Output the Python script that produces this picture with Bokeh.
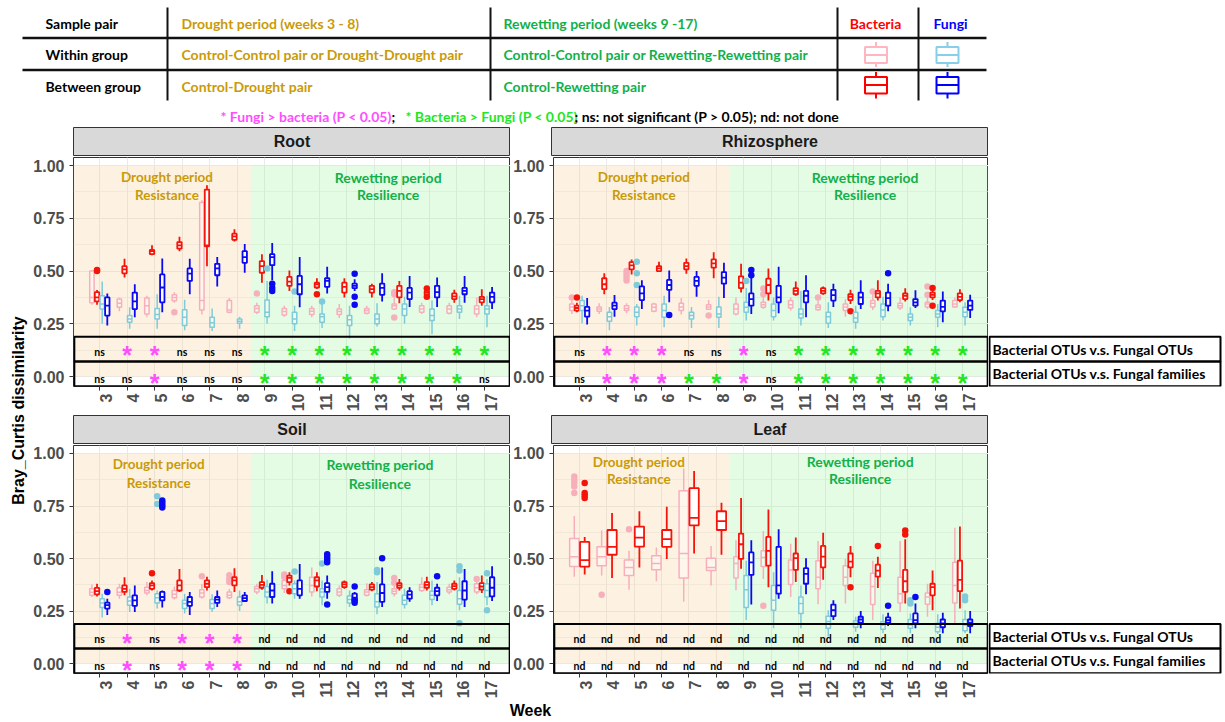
import math
from bokeh.plotting import figure
from bokeh.models import (Range1d, FixedTicker, NumeralTickFormatter, ColumnDataSource, Spacer,
                          LinearAxis, CustomJSTickFormatter, BoxAnnotation)
from bokeh.layouts import row, column
from bokeh.embed import file_html
from bokeh.resources import INLINE
from bokeh.core.properties import value

# ---------------- data ----------------
WEEKS = [3, 4, 5, 6, 7, 8, 9, 10, 11, 12, 13, 14, 15, 16, 17]
Y_TICKS = [0.0, 0.25, 0.5, 0.75, 1.0]
Y_MINOR = [0.125, 0.375, 0.625, 0.875]

# box statistics per week: (lower whisker, Q1, median, Q3, upper whisker)
ROOT_BAC_WITHIN = [(0.34, 0.35, 0.375, 0.50, 0.505), (0.31, 0.328, 0.347, 0.367, 0.375), (0.284, 0.297, 0.336, 0.372, 0.383),
                   (0.35, 0.359, 0.375, 0.388, 0.40), (0.294, 0.316, 0.36, 0.825, 0.836), (0.30, 0.305, 0.316, 0.36, 0.372),
                   (0.297, 0.305, 0.323, 0.336, 0.35), (0.284, 0.292, 0.308, 0.323, 0.336), (0.281, 0.294, 0.309, 0.323, 0.336),
                   (0.278, 0.294, 0.308, 0.32, 0.344), (0.294, 0.30, 0.3125, 0.323, 0.336), (0.316, 0.32, 0.336, 0.344, 0.375),
                   (0.297, 0.305, 0.32, 0.336, 0.35), (0.294, 0.30, 0.32, 0.336, 0.35), (0.281, 0.297, 0.32, 0.336, 0.375)]
ROOT_BAC_BETWEEN = [(0.34, 0.356, 0.375, 0.40, 0.41), (0.47, 0.489, 0.508, 0.523, 0.558), (0.575, 0.58, 0.594, 0.60, 0.622),
                    (0.594, 0.606, 0.622, 0.6375, 0.6625), (0.523, 0.617, 0.622, 0.886, 0.906), (0.64, 0.648, 0.664, 0.677, 0.698),
                    (0.445, 0.492, 0.523, 0.547, 0.58), (0.406, 0.43, 0.45, 0.472, 0.503), (0.415, 0.422, 0.4375, 0.445, 0.466),
                    (0.375, 0.398, 0.425, 0.445, 0.466), (0.375, 0.398, 0.414, 0.43, 0.44), (0.347, 0.375, 0.406, 0.43, 0.453),
                    (0.383, 0.3875, 0.398, 0.406, 0.41), (0.35, 0.367, 0.38, 0.394, 0.411), (0.336, 0.352, 0.367, 0.378, 0.414)]
ROOT_FUN_WITHIN = [(0.25, 0.32, 0.344, 0.383, 0.45), (0.227, 0.258, 0.273, 0.289, 0.328), (0.227, 0.273, 0.294, 0.323, 0.39),
                   (0.219, 0.242, 0.281, 0.317, 0.364), (0.216, 0.234, 0.255, 0.281, 0.323), (0.227, 0.253, 0.2625, 0.273, 0.284),
                   (0.25, 0.284, 0.305, 0.3625, 0.453), (0.216, 0.25, 0.273, 0.305, 0.336), (0.23, 0.258, 0.284, 0.297, 0.344),
                   (0.18, 0.242, 0.269, 0.289, 0.336), (0.2375, 0.25, 0.273, 0.297, 0.347), (0.25, 0.289, 0.32, 0.344, 0.378),
                   (0.20, 0.266, 0.289, 0.32, 0.36), (0.273, 0.305, 0.32, 0.336, 0.383), (0.234, 0.297, 0.32, 0.336, 0.383)]
ROOT_FUN_BETWEEN = [(0.242, 0.289, 0.336, 0.375, 0.394), (0.281, 0.32, 0.356, 0.398, 0.4375), (0.305, 0.352, 0.422, 0.484, 0.56),
                    (0.39, 0.453, 0.4875, 0.5125, 0.558), (0.427, 0.48, 0.5125, 0.534, 0.567), (0.492, 0.539, 0.566, 0.594, 0.628),
                    (0.456, 0.528, 0.566, 0.58, 0.633), (0.328, 0.39, 0.4375, 0.477, 0.566), (0.394, 0.425, 0.453, 0.466, 0.52),
                    (0.406, 0.419, 0.43, 0.44, 0.461), (0.356, 0.3875, 0.42, 0.44, 0.489), (0.33, 0.367, 0.398, 0.42, 0.477),
                    (0.33, 0.375, 0.40, 0.43, 0.469), (0.35, 0.39, 0.406, 0.42, 0.477), (0.32, 0.352, 0.378, 0.398, 0.425)]
ROOT_OUT_BAC_WITHIN = [(6, 0.305), (9, 0.394), (14, 0.40), (14, 0.39), (14, 0.28)]
ROOT_OUT_BAC_BETWEEN = [(3, 0.50), (3, 0.505), (11, 0.39), (15, 0.417), (15, 0.378)]
ROOT_OUT_FUN_WITHIN = [(9, 0.5125), (10, 0.403), (11, 0.356)]
ROOT_OUT_FUN_BETWEEN = [(9, 0.44), (9, 0.42), (9, 0.406), (12, 0.4875), (12, 0.378), (12, 0.34)]

RHIZO_BAC_WITHIN = [(0.297, 0.3125, 0.33, 0.344, 0.36), (0.297, 0.309, 0.32, 0.33, 0.347), (0.30, 0.3125, 0.323, 0.336, 0.347),
                    (0.305, 0.309, 0.328, 0.344, 0.35), (0.294, 0.3125, 0.33, 0.348, 0.372), (0.316, 0.319, 0.33, 0.34, 0.3625),
                    (0.289, 0.297, 0.32, 0.344, 0.375), (0.32, 0.328, 0.34, 0.352, 0.383), (0.3125, 0.325, 0.34, 0.36, 0.375),
                    (0.3125, 0.317, 0.328, 0.339, 0.36), (0.284, 0.3125, 0.33, 0.344, 0.367), (0.316, 0.33, 0.347, 0.36, 0.39),
                    (0.316, 0.325, 0.336, 0.347, 0.375), (0.32, 0.33, 0.344, 0.352, 0.383), (0.325, 0.33, 0.344, 0.36, 0.375)]
RHIZO_BAC_BETWEEN = [(0.305, 0.3125, 0.325, 0.336, 0.35), (0.39, 0.414, 0.4375, 0.466, 0.489), (0.484, 0.508, 0.527, 0.542, 0.555),
                     (0.497, 0.50, 0.5125, 0.523, 0.544), (0.4875, 0.508, 0.523, 0.539, 0.56), (0.466, 0.516, 0.536, 0.555, 0.589),
                     (0.398, 0.419, 0.445, 0.475, 0.534), (0.36, 0.394, 0.434, 0.464, 0.5125), (0.383, 0.39, 0.406, 0.419, 0.45),
                     (0.3875, 0.394, 0.406, 0.419, 0.427), (0.344, 0.3625, 0.378, 0.39, 0.411), (0.36, 0.375, 0.394, 0.406, 0.456),
                     (0.356, 0.367, 0.383, 0.394, 0.419), (0.3625, 0.375, 0.3875, 0.398, 0.41), (0.352, 0.3625, 0.378, 0.394, 0.414)]
RHIZO_FUN_WITHIN = [(0.253, 0.3125, 0.336, 0.36, 0.383), (0.22, 0.2625, 0.284, 0.305, 0.33), (0.242, 0.284, 0.305, 0.33, 0.344),
                    (0.234, 0.281, 0.3125, 0.344, 0.383), (0.23, 0.273, 0.289, 0.305, 0.33), (0.23, 0.281, 0.297, 0.33, 0.378),
                    (0.266, 0.305, 0.328, 0.352, 0.42), (0.266, 0.284, 0.3125, 0.344, 0.375), (0.242, 0.278, 0.297, 0.32, 0.406),
                    (0.23, 0.253, 0.284, 0.305, 0.352), (0.227, 0.258, 0.278, 0.305, 0.336), (0.266, 0.284, 0.316, 0.344, 0.378),
                    (0.242, 0.266, 0.281, 0.297, 0.328), (0.234, 0.281, 0.297, 0.3125, 0.344), (0.242, 0.284, 0.305, 0.328, 0.352)]
RHIZO_FUN_BETWEEN = [(0.247, 0.284, 0.3125, 0.33, 0.372), (0.284, 0.32, 0.336, 0.35, 0.386), (0.32, 0.3625, 0.394, 0.427, 0.456),
                     (0.352, 0.411, 0.434, 0.458, 0.503), (0.378, 0.43, 0.453, 0.472, 0.50), (0.372, 0.44, 0.469, 0.495, 0.539),
                     (0.297, 0.336, 0.367, 0.394, 0.469), (0.30, 0.352, 0.375, 0.43, 0.52), (0.281, 0.352, 0.383, 0.406, 0.48),
                     (0.33, 0.36, 0.386, 0.411, 0.44), (0.32, 0.344, 0.375, 0.398, 0.456), (0.309, 0.336, 0.372, 0.398, 0.44),
                     (0.325, 0.336, 0.352, 0.367, 0.409), (0.258, 0.309, 0.33, 0.36, 0.403), (0.278, 0.316, 0.336, 0.36, 0.3875)]
RHIZO_OUT_BAC_WITHIN = [(3, 0.375), (5, 0.50), (5, 0.485), (5, 0.47), (5, 0.455), (8, 0.289), (10, 0.417), (10, 0.39),
                        (12, 0.375), (14, 0.403), (16, 0.427), (16, 0.3875)]
RHIZO_OUT_BAC_BETWEEN = [(3, 0.375), (13, 0.309), (16, 0.42), (16, 0.336)]
RHIZO_OUT_FUN_WITHIN = [(5, 0.544), (5, 0.49), (5, 0.434), (9, 0.453)]
RHIZO_OUT_FUN_BETWEEN = [(6, 0.292), (9, 0.505), (9, 0.48), (14, 0.49)]

SOIL_BAC_WITHIN = [(0.317, 0.325, 0.34, 0.356, 0.377), (0.309, 0.325, 0.34, 0.361, 0.38), (0.325, 0.336, 0.348, 0.364, 0.388),
                   (0.305, 0.314, 0.33, 0.348, 0.367), (0.309, 0.317, 0.336, 0.352, 0.38), (0.309, 0.314, 0.325, 0.341, 0.356),
                   (0.33, 0.341, 0.356, 0.367, 0.38), (0.336, 0.356, 0.372, 0.396, 0.40), (0.32, 0.341, 0.372, 0.411, 0.458),
                   (0.317, 0.325, 0.341, 0.356, 0.372), (0.32, 0.325, 0.341, 0.352, 0.383), (0.32, 0.333, 0.345, 0.356, 0.37),
                   (0.341, 0.348, 0.364, 0.377, 0.411), (0.33, 0.341, 0.352, 0.364, 0.38), (0.33, 0.341, 0.361, 0.38, 0.395)]
SOIL_BAC_BETWEEN = [(0.32, 0.33, 0.345, 0.36, 0.38), (0.325, 0.341, 0.356, 0.372, 0.411), (0.348, 0.356, 0.372, 0.383, 0.396),
                    (0.341, 0.348, 0.372, 0.396, 0.45), (0.348, 0.364, 0.38, 0.396, 0.414), (0.341, 0.372, 0.396, 0.411, 0.454),
                    (0.352, 0.361, 0.375, 0.388, 0.422), (0.372, 0.388, 0.408, 0.419, 0.435), (0.345, 0.367, 0.396, 0.411, 0.435),
                    (0.356, 0.364, 0.377, 0.388, 0.396), (0.345, 0.352, 0.364, 0.377, 0.388), (0.348, 0.361, 0.372, 0.383, 0.403),
                    (0.348, 0.361, 0.375, 0.388, 0.414), (0.348, 0.356, 0.369, 0.38, 0.396), (0.336, 0.352, 0.367, 0.383, 0.419)]
SOIL_FUN_WITHIN = [(0.22, 0.267, 0.289, 0.309, 0.333), (0.246, 0.278, 0.298, 0.317, 0.356), (0.262, 0.289, 0.314, 0.333, 0.348),
                   (0.239, 0.262, 0.286, 0.301, 0.333), (0.246, 0.262, 0.286, 0.305, 0.33), (0.251, 0.278, 0.294, 0.317, 0.348),
                   (0.286, 0.317, 0.341, 0.367, 0.399), (0.309, 0.333, 0.356, 0.38, 0.396), (0.278, 0.317, 0.341, 0.356, 0.396),
                   (0.27, 0.289, 0.305, 0.322, 0.348), (0.235, 0.27, 0.294, 0.333, 0.388), (0.262, 0.281, 0.301, 0.325, 0.356),
                   (0.278, 0.305, 0.325, 0.345, 0.396), (0.254, 0.283, 0.309, 0.348, 0.411), (0.278, 0.317, 0.348, 0.38, 0.403)]
SOIL_FUN_BETWEEN = [(0.231, 0.262, 0.278, 0.29, 0.309), (0.246, 0.275, 0.301, 0.325, 0.372), (0.267, 0.301, 0.317, 0.341, 0.348),
                    (0.231, 0.275, 0.294, 0.317, 0.341), (0.27, 0.289, 0.305, 0.317, 0.348), (0.294, 0.298, 0.312, 0.325, 0.341),
                    (0.286, 0.317, 0.348, 0.38, 0.44), (0.309, 0.325, 0.356, 0.396, 0.474), (0.309, 0.341, 0.364, 0.383, 0.419),
                    (0.289, 0.298, 0.314, 0.333, 0.341), (0.27, 0.294, 0.336, 0.377, 0.458), (0.294, 0.309, 0.328, 0.345, 0.364),
                    (0.298, 0.325, 0.345, 0.361, 0.38), (0.27, 0.305, 0.348, 0.392, 0.45), (0.298, 0.32, 0.361, 0.411, 0.463)]
SOIL_OUT_BAC_WITHIN = [(7, 0.416), (8, 0.42), (8, 0.403), (8, 0.388), (10, 0.424), (10, 0.412), (14, 0.408), (14, 0.385), (17, 0.403)]
SOIL_OUT_BAC_BETWEEN = [(5, 0.43), (10, 0.345)]
SOIL_OUT_FUN_WITHIN = [(5, 0.796), (5, 0.76), (10, 0.438), (11, 0.477), (13, 0.446), (13, 0.435), (16, 0.463), (16, 0.443),
                       (16, 0.192), (17, 0.43), (17, 0.254)]
SOIL_OUT_FUN_BETWEEN = [(3, 0.341), (5, 0.776), (5, 0.765), (5, 0.754), (5, 0.743), (11, 0.521), (11, 0.509), (11, 0.495),
                        (11, 0.482), (11, 0.281), (12, 0.367), (12, 0.301), (12, 0.29), (13, 0.502), (15, 0.416)]

LEAF_BAC_WITHIN = [(0.414, 0.462, 0.509, 0.595, 0.702), (0.419, 0.466, 0.509, 0.556, 0.634), (0.352, 0.419, 0.458, 0.493, 0.537),
                   (0.392, 0.447, 0.477, 0.513, 0.553), (0.294, 0.408, 0.524, 0.823, 0.929), (0.372, 0.443, 0.458, 0.502, 0.56),
                   (0.349, 0.408, 0.477, 0.509, 0.587), (0.403, 0.462, 0.505, 0.537, 0.631), (0.317, 0.377, 0.446, 0.493, 0.571),
                   (0.283, 0.356, 0.411, 0.49, 0.584), (0.286, 0.372, 0.411, 0.466, 0.498), (0.207, 0.281, 0.367, 0.43, 0.49),
                   (0.246, 0.289, 0.333, 0.411, 0.584), (0.223, 0.283, 0.317, 0.336, 0.38), (0.192, 0.289, 0.372, 0.482, 0.647)]
LEAF_BAC_BETWEEN = [(0.424, 0.462, 0.493, 0.579, 0.603), (0.408, 0.518, 0.556, 0.636, 0.717), (0.458, 0.557, 0.60, 0.652, 0.725),
                    (0.498, 0.556, 0.592, 0.636, 0.746), (0.524, 0.658, 0.694, 0.835, 0.917), (0.518, 0.636, 0.678, 0.725, 0.765),
                    (0.451, 0.498, 0.568, 0.619, 0.788), (0.364, 0.466, 0.537, 0.603, 0.733), (0.388, 0.446, 0.502, 0.524, 0.60),
                    (0.399, 0.458, 0.509, 0.56, 0.623), (0.411, 0.458, 0.485, 0.524, 0.56), (0.36, 0.414, 0.443, 0.471, 0.509),
                    (0.286, 0.341, 0.392, 0.446, 0.592), (0.254, 0.325, 0.364, 0.38, 0.443), (0.262, 0.345, 0.399, 0.49, 0.652)]
LEAF_FUN_WITHIN = [None, None, None, None, None, None,
                   (0.207, 0.267, 0.352, 0.419, 0.49), (0.168, 0.254, 0.301, 0.372, 0.435), (0.168, 0.239, 0.286, 0.317, 0.372),
                   (0.129, 0.168, 0.20, 0.226, 0.254), (0.152, 0.173, 0.192, 0.204, 0.223), (0.144, 0.163, 0.184, 0.199, 0.235),
                   (0.144, 0.168, 0.184, 0.21, 0.239), (0.141, 0.152, 0.173, 0.192, 0.235), (0.144, 0.157, 0.184, 0.21, 0.254)]
LEAF_FUN_BETWEEN = [None, None, None, None, None, None,
                    (0.281, 0.422, 0.482, 0.529, 0.587), (0.309, 0.333, 0.372, 0.556, 0.639), (0.33, 0.38, 0.427, 0.454, 0.501),
                    (0.207, 0.226, 0.254, 0.281, 0.301), (0.168, 0.195, 0.21, 0.223, 0.251), (0.179, 0.195, 0.207, 0.22, 0.242),
                    (0.168, 0.192, 0.207, 0.239, 0.286), (0.144, 0.173, 0.192, 0.21, 0.242), (0.144, 0.179, 0.195, 0.21, 0.251)]
LEAF_OUT_BAC_WITHIN = [(3, 0.89), (3, 0.874), (3, 0.859), (3, 0.843), (3, 0.812), (4, 0.328), (5, 0.639), (10, 0.275)]
LEAF_OUT_BAC_BETWEEN = [(3, 0.859), (3, 0.812), (3, 0.80), (3, 0.788), (13, 0.364), (14, 0.56), (15, 0.634), (15, 0.615)]
LEAF_OUT_FUN_WITHIN = [(15, 0.301), (15, 0.286), (17, 0.32), (17, 0.301)]
LEAF_OUT_FUN_BETWEEN = [(14, 0.275), (15, 0.317)]

# significance: F = Fungi > bacteria, B = Bacteria > Fungi, ns / nd
ROOT_SIG_OTU = ["ns", "F", "F", "ns", "ns", "ns", "B", "B", "B", "B", "B", "B", "B", "B", "B"]
ROOT_SIG_FAM = ["ns", "ns", "F", "ns", "ns", "ns", "B", "B", "B", "B", "B", "B", "B", "B", "ns"]
RHIZO_SIG_OTU = ["ns", "F", "F", "F", "ns", "ns", "F", "ns", "B", "B", "B", "B", "B", "B", "B"]
RHIZO_SIG_FAM = ["ns", "F", "F", "F", "B", "B", "F", "ns", "B", "B", "B", "B", "B", "B", "B"]
SOIL_SIG_OTU = ["ns", "F", "ns", "F", "F", "F", "nd", "nd", "nd", "nd", "nd", "nd", "nd", "nd", "nd"]
SOIL_SIG_FAM = ["ns", "F", "ns", "F", "F", "F", "nd", "nd", "nd", "nd", "nd", "nd", "nd", "nd", "nd"]
LEAF_SIG_OTU = ["nd", "nd", "nd", "nd", "nd", "nd", "nd", "nd", "nd", "nd", "nd", "nd", "nd", "nd", "nd"]
LEAF_SIG_FAM = ["nd", "nd", "nd", "nd", "nd", "nd", "nd", "nd", "nd", "nd", "nd", "nd", "nd", "nd", "nd"]

# ---------------- style ----------------
PINK = "#F7B0BB"
RED = "#F5140A"
LBLUE = "#7FCBDA"
BLUE = "#0A0AF0"
MAGENTA = "#FF4DFF"
LIME = "#22E622"
GOLD = "#C99A08"
GTXT = "#12B04A"
TAN_C = "#F5BE6E"
GRN_C = "#78EB78"
GRID = "#EBEBEB"
AXC = "#4D4D4D"
ARIAL = value("Liberation Sans")
LATO = value("Lato")

X_RANGE = (2.05, 17.95)
Y_RANGE = (-0.047, 1.038)
BAND1 = (0.072, 0.189)
BAND2 = (-0.046, 0.072)
LABEL_SHIFT = 0.23   # tick labels sit a little right of their tick, as in the reference

OFF4 = [-0.28, -0.094, 0.094, 0.28]
OFF2 = [-0.19, 0.19]
W4 = 0.16
W2 = 0.34

def slot(n, gi):
    if n == 2 and gi < 2:
        return OFF2[gi], W2
    return OFF4[gi], W4

def draw_group(p, stats_all, gi, outs, color, fill_alpha, lw):
    stats = stats_all[gi]
    xs, lo, q1, md, q3, hi, x0, x1 = [], [], [], [], [], [], [], []
    offmap = {}
    for k, wk in enumerate(WEEKS):
        s = stats[k]
        n = sum(1 for g in stats_all if g[k] is not None)
        off, bw = slot(n, gi)
        offmap[wk] = off
        if s is None:
            continue
        x = wk + off
        xs.append(x); lo.append(s[0]); q1.append(s[1]); md.append(s[2]); q3.append(s[3]); hi.append(s[4])
        x0.append(x - bw / 2); x1.append(x + bw / 2)
    src = ColumnDataSource(dict(x=xs, lo=lo, q1=q1, md=md, q3=q3, hi=hi, x0=x0, x1=x1))
    p.segment(x0="x", y0="q3", x1="x", y1="hi", source=src, line_color=color, line_width=lw)
    p.segment(x0="x", y0="q1", x1="x", y1="lo", source=src, line_color=color, line_width=lw)
    p.quad(left="x0", right="x1", bottom="q1", top="q3", source=src, fill_color="white",
           fill_alpha=fill_alpha, line_color=color, line_width=lw)
    p.segment(x0="x0", y0="md", x1="x1", y1="md", source=src, line_color=color, line_width=lw)
    if outs:
        ox = [w + offmap[w] for w, v in outs]
        oy = [v for w, v in outs]
        p.scatter(ox, oy, size=6.5, color=color, line_width=0)

def draw_sig(p, sig, y_txt, y_star):
    tx, ty, tt, sx, sy, sc = [], [], [], [], [], []
    for wk, s in zip(WEEKS, sig):
        if s in ("ns", "nd"):
            tx.append(wk); ty.append(y_txt); tt.append(s)
        else:
            sx.append(wk); sy.append(y_star); sc.append(MAGENTA if s == "F" else LIME)
    if tx:
        p.text(tx, ty, text=tt, text_font=LATO, text_font_style="bold", text_font_size="10.5px",
               text_color="black", text_align="center", text_baseline="middle")
    if sx:
        p.text(sx, sy, text=["*"] * len(sx), text_font=ARIAL, text_font_style="bold", text_font_size="25px",
               text_color=sc, text_align="center", text_baseline="middle")

TEXT_POS = {"Root": (5.45, 13.5, 0.945, 0.862), "Rhizosphere": (5.35, 13.44, 0.945, 0.862),
            "Soil": (5.15, 13.2, 0.948, 0.859), "Leaf": (5.17, 13.26, 0.961, 0.879)}

def make_panel(name, stats_all, outs_all, sig_otu, sig_fam, left_side, bottom_row):
    h = 257 if bottom_row else 258
    mb = 25 if bottom_row else 26
    w = 482 if left_side else 478
    ml = 45 if left_side else 41
    p = figure(width=w, height=h, x_range=Range1d(*X_RANGE), y_range=Range1d(*Y_RANGE),
               output_backend="svg", toolbar_location=None,
               min_border_left=ml, min_border_right=0, min_border_top=1, min_border_bottom=mb)
    p.outline_line_color = "#333333"
    p.outline_line_width = 1
    # tick-mark axis (no labels); labels come from a second axis just below it
    p.xaxis.ticker = FixedTicker(ticks=WEEKS)
    p.xaxis.formatter = CustomJSTickFormatter(code="return ''")
    p.xaxis.major_label_orientation = math.pi / 2
    p.xaxis.major_label_standoff = 0
    lab_axis = LinearAxis(ticker=FixedTicker(ticks=[w_ + LABEL_SHIFT for w_ in WEEKS]),
                          formatter=CustomJSTickFormatter(code="return String(Math.round(tick - %s))" % LABEL_SHIFT),
                          major_tick_out=0, major_tick_in=0, minor_tick_line_color=None, axis_line_color=None,
                          major_tick_line_color=None, major_label_orientation=math.pi / 2, major_label_standoff=3,
                          major_label_text_font="Liberation Sans", major_label_text_font_style="bold",
                          major_label_text_font_size="16px", major_label_text_color=AXC)
    p.add_layout(lab_axis, "below")
    p.yaxis.ticker = FixedTicker(ticks=Y_TICKS, minor_ticks=Y_MINOR)
    p.yaxis.formatter = NumeralTickFormatter(format="0.00")
    for ax in (p.xaxis[0], p.yaxis[0]):
        ax.axis_line_color = None
        ax.major_tick_line_color = "#333333"
        ax.major_tick_out = 4
        ax.major_tick_in = 0
        ax.minor_tick_line_color = None
        ax.major_label_text_font = "Liberation Sans"
        ax.major_label_text_font_style = "bold"
        ax.major_label_text_font_size = "16px"
        ax.major_label_text_color = AXC
    p.yaxis.major_label_standoff = 5
    p.xgrid.ticker = FixedTicker(ticks=WEEKS)
    p.xgrid.grid_line_color = GRID
    p.ygrid.grid_line_color = GRID
    p.ygrid.minor_grid_line_color = GRID
    p.ygrid.minor_grid_line_width = 0.6

    # period backgrounds
    p.quad(left=[0, 8.5], right=[8.5, 30], bottom=[0, 0], top=[1, 1], fill_color=[TAN_C, GRN_C],
           fill_alpha=0.2, line_color=None)

    colors = [PINK, RED, LBLUE, BLUE]
    alphas = [0.35, 1.0, 0.35, 1.0]
    lws = [1.5, 1.8, 1.5, 1.8]
    for gi in range(4):
        draw_group(p, stats_all, gi, outs_all[gi], colors[gi], alphas[gi], lws[gi])

    # significance bands
    x0, x1 = X_RANGE[0] + 0.03, X_RANGE[1] - 0.03
    p.quad(left=[x0, x0], right=[x1, x1], bottom=[BAND1[0], BAND2[0]], top=[BAND1[1], BAND2[1]],
           fill_color=None, line_color="black", line_width=2)
    if not left_side:
        # the bands reach across the y-axis gap to the neighbouring panel
        gap = ml / (437.0 / (X_RANGE[1] - X_RANGE[0]))
        for b0, b1 in (BAND1, BAND2):
            p.add_layout(BoxAnnotation(left=X_RANGE[0] - gap + 0.02, right=X_RANGE[0], bottom=b0, top=b1,
                                       fill_color=None, fill_alpha=0, line_color="black", line_width=2,
                                       line_alpha=1))
    draw_sig(p, sig_otu, 0.117, 0.100)
    draw_sig(p, sig_fam, -0.013, -0.030)

    dx, rx, y1, y2 = TEXT_POS[name]
    p.text([dx, dx], [y1, y2], text=["Drought period", "Resistance"], text_font=LATO, text_font_style="bold",
           text_font_size="13.5px", text_color=GOLD, text_align="center", text_baseline="middle")
    p.text([rx, rx], [y1, y2], text=["Rewetting period", "Resilience"], text_font=LATO, text_font_style="bold",
           text_font_size="14px", text_color=GTXT, text_align="center", text_baseline="middle")
    return p

def make_strip(name, left_side, height, top, bottom):
    w = 482 if left_side else 478
    ml = 45 if left_side else 41
    s = figure(width=w, height=height, x_range=Range1d(0, 1), y_range=Range1d(0, 1),
               output_backend="svg", toolbar_location=None,
               min_border_left=ml, min_border_right=0, min_border_top=top, min_border_bottom=bottom,
               background_fill_color="#D9D9D9", outline_line_color="#333333")
    s.axis.visible = False
    s.grid.visible = False
    s.text([0.5], [0.5], text=[name], text_font=ARIAL, text_font_style="bold", text_font_size="16px",
           text_color="#1A1A1A", text_align="center", text_baseline="middle")
    return s

LABEL_W = 236

def make_label_fig(bottom_row):
    h = 257 if bottom_row else 258
    mb = 25 if bottom_row else 26
    f = figure(width=LABEL_W, height=h, x_range=Range1d(0, LABEL_W), y_range=Range1d(*Y_RANGE),
               output_backend="svg", toolbar_location=None,
               min_border_left=0, min_border_right=0, min_border_top=1, min_border_bottom=mb,
               outline_line_color=None)
    f.axis.visible = False
    f.grid.visible = False
    f.quad(left=[1, 1], right=[232, 232], bottom=[BAND1[0], BAND2[0]], top=[BAND1[1], BAND2[1]],
           fill_color=None, line_color="black", line_width=2)
    f.text([4, 4], [(BAND1[0] + BAND1[1]) / 2, (BAND2[0] + BAND2[1]) / 2],
           text=["Bacterial OTUs v.s. Fungal OTUs", "Bacterial OTUs v.s. Fungal families"],
           text_font=LATO, text_font_style="bold", text_font_size="14px", text_color="black",
           text_align="left", text_baseline="middle")
    return f

root = make_panel("Root", [ROOT_BAC_WITHIN, ROOT_BAC_BETWEEN, ROOT_FUN_WITHIN, ROOT_FUN_BETWEEN],
                  [ROOT_OUT_BAC_WITHIN, ROOT_OUT_BAC_BETWEEN, ROOT_OUT_FUN_WITHIN, ROOT_OUT_FUN_BETWEEN],
                  ROOT_SIG_OTU, ROOT_SIG_FAM, True, False)
rhizo = make_panel("Rhizosphere", [RHIZO_BAC_WITHIN, RHIZO_BAC_BETWEEN, RHIZO_FUN_WITHIN, RHIZO_FUN_BETWEEN],
                   [RHIZO_OUT_BAC_WITHIN, RHIZO_OUT_BAC_BETWEEN, RHIZO_OUT_FUN_WITHIN, RHIZO_OUT_FUN_BETWEEN],
                   RHIZO_SIG_OTU, RHIZO_SIG_FAM, False, False)
soil = make_panel("Soil", [SOIL_BAC_WITHIN, SOIL_BAC_BETWEEN, SOIL_FUN_WITHIN, SOIL_FUN_BETWEEN],
                  [SOIL_OUT_BAC_WITHIN, SOIL_OUT_BAC_BETWEEN, SOIL_OUT_FUN_WITHIN, SOIL_OUT_FUN_BETWEEN],
                  SOIL_SIG_OTU, SOIL_SIG_FAM, True, True)
leaf = make_panel("Leaf", [LEAF_BAC_WITHIN, LEAF_BAC_BETWEEN, LEAF_FUN_WITHIN, LEAF_FUN_BETWEEN],
                  [LEAF_OUT_BAC_WITHIN, LEAF_OUT_BAC_BETWEEN, LEAF_OUT_FUN_WITHIN, LEAF_OUT_FUN_BETWEEN],
                  LEAF_SIG_OTU, LEAF_SIG_FAM, False, True)

TOTAL_W = 28 + 482 + 478 + LABEL_W

# ---------------- header table ----------------
t = figure(width=TOTAL_W, height=124, x_range=Range1d(0, TOTAL_W), y_range=Range1d(124, 0),
           output_backend="svg", toolbar_location=None, min_border=0, outline_line_color=None)
t.axis.visible = False
t.grid.visible = False
t.segment(x0=[22, 22], y0=[37.5, 69.5], x1=[986, 986], y1=[37.5, 69.5], line_color="#111111", line_width=2.5)
t.segment(x0=[167, 490, 837, 918], y0=[7, 7, 7, 7], x1=[167, 490, 837, 918], y1=[100, 100, 100, 100],
          line_color="#111111", line_width=2)
TBL_FONT = "14px"
t.text([45, 45, 45], [23, 54, 86], text=["Sample pair", "Within group", "Between group"], text_font=LATO,
       text_font_style="bold", text_font_size=TBL_FONT, text_color="black", text_align="left", text_baseline="middle")
t.text([181, 181, 181], [23, 54, 86],
       text=["Drought period (weeks 3 - 8)", "Control-Control pair or Drought-Drought pair", "Control-Drought pair"],
       text_font=LATO, text_font_style="bold", text_font_size=TBL_FONT, text_color=GOLD, text_align="left",
       text_baseline="middle")
t.text([503, 503, 503], [23, 54, 86],
       text=["Rewetting period (weeks 9 -17)", "Control-Control pair or Rewetting-Rewetting pair", "Control-Rewetting pair"],
       text_font=LATO, text_font_style="bold", text_font_size=TBL_FONT, text_color=GTXT, text_align="left",
       text_baseline="middle")
t.text([875, 950], [23, 23], text=["Bacteria", "Fungi"], text_font=LATO, text_font_style="bold",
       text_font_size=TBL_FONT, text_color=["#FF0000", "#0000FF"], text_align="center", text_baseline="middle")
# legend box icons
ICON_X = [875.5, 947, 875.5, 947]
ICON_C = ["#FFB6C1", "#87CEEB", "#FF0000", "#0000FF"]
ICON_Y = [(41.5, 46.5, 54.5, 62.5, 66.5), (41.5, 46.5, 54.5, 62.5, 66.5),
          (71.5, 76.5, 84.5, 93, 98), (71.5, 76.5, 84.5, 93, 98)]
for cx, c, (wt, bt, md, bb, wb) in zip(ICON_X, ICON_C, ICON_Y):
    t.segment([cx, cx], [wt, bb], [cx, cx], [bt, wb], line_color=c, line_width=2)
    t.quad(left=[cx - 11], right=[cx + 11], top=[bt], bottom=[bb], fill_color="white", line_color=c, line_width=2)
    t.segment([cx - 11], [md], [cx + 11], [md], line_color=c, line_width=2)
# footnote
t.text([220], [116], text=["* Fungi > bacteria (P < 0.05)"], text_font=LATO, text_font_style="bold",
       text_font_size=TBL_FONT, text_color=MAGENTA, text_align="left", text_baseline="middle")
t.text([391], [116], text=[";"], text_font=LATO, text_font_style="bold",
       text_font_size=TBL_FONT, text_color="black", text_align="left", text_baseline="middle")
t.text([405], [116], text=["* Bacteria > Fungi (P < 0.05)"], text_font=LATO, text_font_style="bold",
       text_font_size=TBL_FONT, text_color=LIME, text_align="left", text_baseline="middle")
t.text([574], [116], text=["; ns: not significant (P > 0.05); nd: not done"], text_font=LATO, text_font_style="bold",
       text_font_size=TBL_FONT, text_color="black", text_align="left", text_baseline="middle")

# ---------------- shared axis titles ----------------
ylab = figure(width=28, height=577, x_range=Range1d(0, 28), y_range=Range1d(701, 124),
              output_backend="svg", toolbar_location=None, min_border=0, outline_line_color=None)
ylab.axis.visible = False
ylab.grid.visible = False
ylab.text([18], [410], text=["Bray_Curtis dissimilarity"], angle=math.pi / 2, text_font=ARIAL,
          text_font_style="bold", text_font_size="16px", text_color="black", text_align="center",
          text_baseline="middle")

week = figure(width=TOTAL_W, height=20, x_range=Range1d(0, TOTAL_W), y_range=Range1d(721, 701),
              output_backend="svg", toolbar_location=None, min_border=0, outline_line_color=None)
week.axis.visible = False
week.grid.visible = False
week.text([530], [710], text=["Week"], text_font=ARIAL, text_font_style="bold", text_font_size="16px",
          text_color="black", text_align="center", text_baseline="middle")

top_strips = row(make_strip("Root", True, 32, 3, 1), make_strip("Rhizosphere", False, 32, 3, 1),
                 Spacer(width=LABEL_W, height=32))
top_panels = row(root, rhizo, make_label_fig(False))
bot_strips = row(make_strip("Soil", True, 30, 1, 1), make_strip("Leaf", False, 30, 1, 1),
                 Spacer(width=LABEL_W, height=30))
bot_panels = row(soil, leaf, make_label_fig(True))
body = row(ylab, column(top_strips, top_panels, bot_strips, bot_panels))
layout = column(t, body, week)

open("out.html", "w").write(file_html(layout, INLINE))
